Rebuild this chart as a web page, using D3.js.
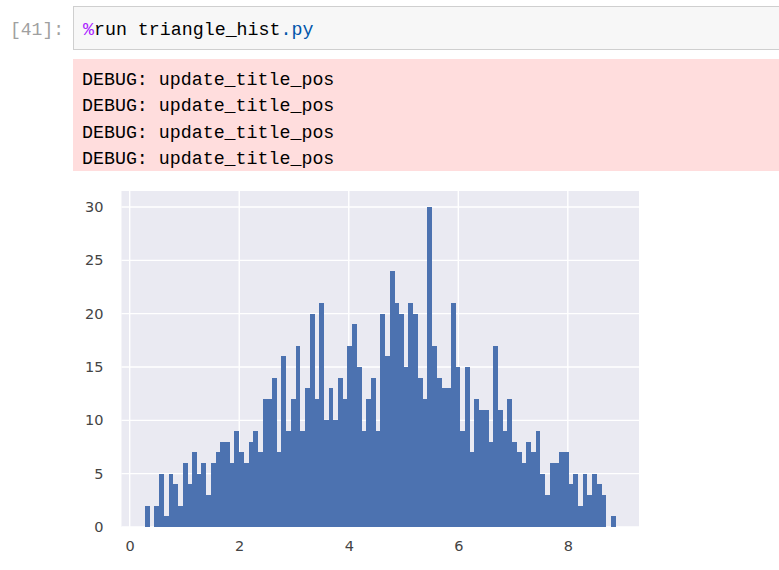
<!DOCTYPE html>
<html>
<head>
<meta charset="utf-8">
<script src="https://cdn.jsdelivr.net/npm/d3@7"></script>
<style>
  html, body { margin: 0; padding: 0; background: #fff; }
  svg { display: block; }
</style>
</head>
<body>
<svg id="chart" width="779" height="570"></svg>
<script>
// ---- data ----
const promptText = "[41]:";
const commandParts = [
  { text: "%", color: "#aa22ff" },
  { text: "run triangle_hist", color: "#000000" },
  { text: ".py", color: "#0055aa" }
];
const stderrLines = [
  "DEBUG: update_title_pos",
  "DEBUG: update_title_pos",
  "DEBUG: update_title_pos",
  "DEBUG: update_title_pos"
];
// histogram: 100 bins between binMin and binMax
const binMin = 0.28;
const binMax = 8.87;
const counts = [
  2, 0, 2, 5, 1, 5, 4, 2, 6, 4,
  7, 5, 6, 3, 6, 7, 8, 8, 6, 9,
  7, 6, 8, 9, 7, 12, 12, 14, 7, 16,
  9, 12, 17, 9, 13, 20, 12, 21, 10, 13,
  10, 14, 12, 17, 19, 15, 9, 12, 14, 9,
  20, 16, 24, 21, 20, 15, 21, 20, 14, 12,
  30, 17, 14, 13, 13, 21, 15, 9, 15, 7,
  12, 11, 11, 8, 17, 11, 9, 12, 8, 7,
  6, 8, 7, 9, 5, 3, 6, 6, 7, 7,
  4, 5, 2, 5, 3, 5, 4, 3, 0, 1
];
const xTicks = [0, 2, 4, 6, 8];
const yTicks = [0, 5, 10, 15, 20, 25, 30];

// ---- notebook chrome ----
const svg = d3.select("#chart");
const mono = "'Liberation Mono', 'DejaVu Sans Mono', monospace";

svg.append("text")
  .attr("x", 64).attr("y", 35)
  .attr("text-anchor", "end")
  .attr("font-family", "'Liberation Mono', monospace")
  .attr("font-size", 18)
  .attr("fill", "#a0a0a0")
  .text(promptText);

svg.append("rect")
  .attr("x", 73.5).attr("y", 6.5)
  .attr("width", 720).attr("height", 43)
  .attr("fill", "#f7f7f7")
  .attr("stroke", "#cfcfcf");

const cmd = svg.append("text")
  .attr("x", 83).attr("y", 35)
  .attr("font-family", mono)
  .attr("font-size", 18.3);
cmd.selectAll("tspan").data(commandParts).join("tspan")
  .attr("fill", d => d.color)
  .text(d => d.text);

svg.append("rect")
  .attr("x", 73).attr("y", 59)
  .attr("width", 720).attr("height", 112)
  .attr("fill", "#ffdddd");

svg.selectAll("text.err").data(stderrLines).join("text")
  .attr("class", "err")
  .attr("x", 82)
  .attr("y", (d, i) => 85 + i * 26.3)
  .attr("font-family", mono)
  .attr("font-size", 18.3)
  .attr("fill", "#000")
  .text(d => d);

// ---- histogram ----
const nBins = counts.length;
const binW = (binMax - binMin) / nBins;
const pad = (binMax - binMin) * 0.05;
const x = d3.scaleLinear().domain([binMin - pad, binMax + pad]).range([121.5, 639]);
const yMax = d3.max(counts) * 1.05;
const y = d3.scaleLinear().domain([0, yMax]).range([527, 191]);

const g = svg.append("g");
g.append("rect")
  .attr("x", x.range()[0]).attr("y", y.range()[1])
  .attr("width", x.range()[1] - x.range()[0])
  .attr("height", y.range()[0] - y.range()[1])
  .attr("fill", "#eaeaf2");

// grid
g.append("g").selectAll("line").data(xTicks).join("line")
  .attr("x1", d => x(d)).attr("x2", d => x(d))
  .attr("y1", y.range()[1]).attr("y2", y.range()[0])
  .attr("stroke", "#fff").attr("stroke-width", 1.4);
g.append("g").selectAll("line").data(yTicks).join("line")
  .attr("x1", x.range()[0]).attr("x2", x.range()[1])
  .attr("y1", d => y(d)).attr("y2", d => y(d))
  .attr("stroke", "#fff").attr("stroke-width", 1.4);

// bars
const bins = counts.map((c, i) => ({ x0: binMin + i * binW, x1: binMin + (i + 1) * binW, c }));
g.append("g").attr("shape-rendering", "crispEdges")
  .selectAll("rect").data(bins).join("rect")
  .attr("x", d => x(d.x0))
  .attr("width", d => x(d.x1) - x(d.x0) + 0.2)
  .attr("y", d => y(d.c))
  .attr("height", d => y(0) - y(d.c))
  .attr("fill", "#4c72b0");

// axes (labels only, seaborn darkgrid style)
const xAxis = d3.axisBottom(x).tickValues(xTicks).tickSize(0).tickPadding(14).tickFormat(d3.format("d"));
const yAxis = d3.axisLeft(y).tickValues(yTicks).tickSize(0).tickPadding(18).tickFormat(d3.format("d"));
const xa = g.append("g").attr("transform", `translate(0,${y.range()[0]})`).call(xAxis);
const ya = g.append("g").attr("transform", `translate(${x.range()[0]},0)`).call(yAxis);
[xa, ya].forEach(a => {
  a.select(".domain").remove();
  a.selectAll("text")
    .attr("font-family", "'DejaVu Sans', sans-serif")
    .attr("font-size", 14.5)
    .attr("fill", "#444");
});
</script>
</body>
</html>
